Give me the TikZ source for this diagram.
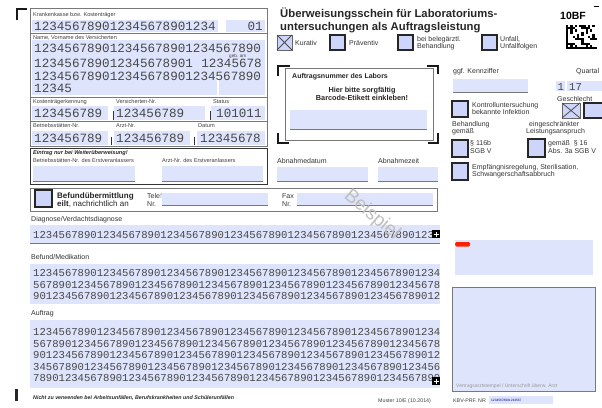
\documentclass[tikz,border=0pt]{standalone}
\usepackage{fontspec}
\setmainfont{Liberation Sans}
\newfontfamily\monofam{Liberation Mono}
\definecolor{fb}{RGB}{222,228,252}
\definecolor{cb}{RGB}{205,213,250}
\definecolor{ln}{RGB}{120,120,120}
\begin{document}
\begin{tikzpicture}[x=1pt,y=-1pt,
  tiny/.style={font=\fontsize{5.6}{6}\selectfont, text=black!75, inner sep=0pt, anchor=base west},
  sect/.style={font=\fontsize{7}{8}\selectfont, text=black!80, inner sep=0pt, anchor=base west},
  lbl/.style={font=\fontsize{7}{8}\selectfont, text=black!80, inner sep=0pt, anchor=base west},
  mbig/.style={font=\monofam\fontsize{12.6}{12.6}\selectfont, text=black!72, inner sep=0pt, anchor=base west},
  msm/.style={font=\monofam\fontsize{10.6}{11}\selectfont, text=black!72, inner sep=0pt, anchor=base west},
  uline/.style={draw=ln, line width=0.6pt},
  cbox/.style={draw=black!85, line width=1.1pt, fill=cb},
  frame/.style={draw=ln, line width=0.6pt},
  bracket/.style={line width=2.5pt, draw=black!90},
  tick/.style={draw=black!80, line width=0.6pt}]
\useasboundingbox (0,0) rectangle (602,407);
\fill[white] (0,0) rectangle (602,407);

% ---------- left block ----------
\draw[bracket] (17,20) -- (17,9) -- (27,9);
\draw[frame] (30,8) rectangle (267,146);
\draw[frame] (30,33) -- (267,33);
\draw[frame] (30,97) -- (267,97);
\draw[frame] (30,121) -- (267,121);

\node[tiny] (lkk) at (33,16) {Krankenkasse bzw. Kostenträger};
\fill[fb] (32,20) rectangle (218,32);
\fill[fb] (226,20) rectangle (265,32);
\node[mbig] (kk) at (34,30.5) {123456789012345678901234};
\node[mbig, anchor=base east] (kk2) at (263,30.5) {01};

\node[tiny] (lname) at (33,39) {Name, Vorname des Versicherten};
\fill[fb] (32,40) rectangle (265,95);
\draw[white, line width=1.5pt] (218,71) -- (218,95);
\node[mbig] (n1) at (34,52) {123456789012345678901234567890};
\node[tiny, font=\fontsize{4.6}{5}\selectfont] (lgeb) at (229,57) {geb. am};
\node[mbig] (n2) at (34,67) {123456789012345678901};
\node[mbig, anchor=base east] (n2b) at (262,67) {12345678};
\node[mbig] (n3) at (34,80) {123456789012345678901234567890};
\node[mbig] (n4) at (34,92) {12345};

\node[tiny] (lktk) at (33,103.5) {Kostenträgerkennung};
\node[tiny] (lvnr) at (116,103.5) {Versicherten-Nr.};
\node[tiny] (lst) at (213,103.5) {Status};
\fill[fb] (32,106) rectangle (108,120);
\fill[fb] (114,106) rectangle (205,120);
\fill[fb] (211,106) rectangle (265,120);
\draw[tick] (113,111) -- (113,120);
\draw[tick] (210,111) -- (210,120);
\node[mbig] (ktk) at (34,117) {123456789};
\node[mbig] (vnr) at (116,117) {123456789};
\node[mbig] (st) at (216,117) {101011};

\node[tiny] (lbsnr) at (33,127) {Betriebsstätten-Nr.};
\node[tiny] (lanr) at (116,127) {Arzt-Nr.};
\node[tiny] (ldat) at (198,127) {Datum};
\fill[fb] (32,131) rectangle (108,145);
\fill[fb] (114,131) rectangle (190,145);
\fill[fb] (197,131) rectangle (265,145);
\draw[tick] (111,137) -- (111,145);
\draw[tick] (194,137) -- (194,145);
\node[mbig] (bsnr) at (34,142) {123456789};
\node[mbig] (anr) at (116,142) {123456789};
\node[mbig] (dat) at (200,142) {12345678};

\draw[draw=black!80, line width=1pt] (30,148) rectangle (267,184);
\node[tiny, font=\bfseries\itshape\fontsize{5.6}{6}\selectfont, text=black!85] (lein) at (33,154) {Eintrag nur bei Weiterüberweisung!};
\node[tiny] (lbs2) at (33,162) {Betriebsstätten-Nr. des Erstveranlassers};
\node[tiny] (lan2) at (162,162) {Arzt-Nr. des Erstveranlassers};
\fill[fb] (33,166) rectangle (135,181); \draw[uline] (33,181) -- (135,181);
\fill[fb] (162,166) rectangle (263,181); \draw[uline] (162,181) -- (263,181);

% ---------- Befunduebermittlung ----------
\draw[frame] (30,188) rectangle (437,211);
\draw[cbox] (35,190) rectangle (52,207);
\node[font=\bfseries\fontsize{8}{8}\selectfont, text=black!85, anchor=base west, inner sep=0pt] (bu1) at (57,198) {Befundübermittlung};
\node[font=\fontsize{8}{8}\selectfont, text=black!85, anchor=base west, inner sep=0pt] (bu2) at (57,206) {\textbf{eilt}, nachrichtlich an};
\node[lbl] (tel1) at (147,198) {Tele\textcolor{black!35}{fon}};
\node[lbl] (tel2) at (147,206) {Nr.};
\fill[fb] (162,193) rectangle (268,205); \draw[uline] (162,205) -- (268,205);
\node[lbl] (fax1) at (282,198) {Fax};
\node[lbl] (fax2) at (282,206) {Nr.};
\fill[fb] (297,193) rectangle (433,205); \draw[uline] (297,205) -- (433,205);

% ---------- right column ----------
\node[font=\bfseries\fontsize{11.3}{13}\selectfont, text=black!85, anchor=base west, inner sep=0pt] (t1) at (280,17) {Überweisungsschein für Laboratoriums-};
\node[font=\bfseries\fontsize{11.3}{13}\selectfont, text=black!85, anchor=base west, inner sep=0pt] (t2) at (280,30) {untersuchungen als Auftragsleistung};
\node[font=\bfseries\fontsize{10.5}{12}\selectfont, anchor=base west, inner sep=0pt] (bf) at (560,19) {10BF};
\draw[line width=1.3pt] (594,6.5) -- (599,6.5);
\foreach \i in {0,...,13}{
  \foreach \j in {0,...,10}{
    \pgfmathtruncatemacro\v{mod(\i*\i*3+\j*7+\i*\j*5+\j*\j,7)}
    \ifnum\v<3 \fill (566+2.2*\i,25+2.2*\j) rectangle ++(2.2,2.2);\fi
  }
}
\fill (566,25) rectangle (568.2,49.2);
\fill (566,47) rectangle (596.8,49.2);
\foreach \i in {0,2,...,12}{\fill (566+2.2*\i,25) rectangle ++(2.2,2.2);}

% checkbox row
\draw[draw=black!60, line width=0.8pt, fill=cb] (277,35) rectangle (292,50);
\draw[draw=black!70, line width=0.8pt] (277,35) -- (292,50) (292,35) -- (277,50);
\node[lbl] (kur) at (295,45.5) {Kurativ};
\draw[cbox] (330,35) rectangle (345,50);
\node[lbl] (prae) at (349,45.5) {Präventiv};
\draw[cbox] (398,35) rectangle (413,50);
\node[lbl] (bel1) at (417,41) {bei belegärztl.};
\node[lbl] (bel2) at (417,48.5) {Behandlung};
\draw[cbox] (482,35) rectangle (497,50);
\node[lbl] (unf1) at (500,41) {Unfall,};
\node[lbl] (unf2) at (500,48.5) {Unfallfolgen};

% Auftragsnummer
\draw[frame] (285,68) rectangle (433,140);
\draw[bracket] (278,76) -- (278,66) -- (290,66);
\draw[bracket] (427,66) -- (438,66) -- (438,74);
\draw[bracket] (278,133) -- (278,143) -- (289,143);
\draw[bracket] (428,143) -- (438,143) -- (438,133);
\node[font=\bfseries\fontsize{7}{8}\selectfont, text=black!85, anchor=base west, inner sep=0pt] (an) at (292,78) {Auftragsnummer des Labors};
\node[font=\bfseries\fontsize{7.3}{8.5}\selectfont, text=black!85, align=center, inner sep=0pt] (hier) at (362,94) {Hier bitte sorgfältig\\Barcode-Etikett einkleben!};
\fill[fb] (290,110) rectangle (427,129); \draw[uline] (290,129) -- (427,129);

\node[lbl] (kz) at (453,73) {ggf. Kennziffer};
\fill[fb] (453,79) rectangle (528,92); \draw[uline] (453,92) -- (528,92);
\node[lbl] (q) at (576,73) {Quartal};
\fill[fb] (556,81) rectangle (565,91);
\fill[fb] (567,81) rectangle (604,91);
\node[msm] (q1) at (557.5,90) {1};
\node[msm] (q2) at (569,90) {17};
\node[lbl] (ge) at (557,101) {Geschlecht};
\draw[draw=black!60, line width=0.8pt, fill=cb] (562,103) rectangle (580,118);
\draw[draw=black!70, line width=0.8pt] (562,103) -- (580,118) (580,103) -- (562,118);
\draw[cbox] (584,103) rectangle (604,118);

\draw[cbox] (452,101) rectangle (468,117);
\node[lbl] (ko1) at (472,107) {Kontrolluntersuchung};
\node[lbl] (ko2) at (472,114.5) {bekannte Infektion};
\node[lbl] (beh1) at (452,126) {Behandlung};
\node[lbl] (beh2) at (452,133.5) {gemäß};
\node[lbl] (ein1) at (529,126) {eingeschränkter};
\node[lbl] (ein2) at (526,133.5) {Leistungsanspruch};
\draw[cbox] (452,140) rectangle (468,157);
\node[lbl] (p1) at (470,145.5) {§ 116b};
\node[lbl] (p2) at (470,153) {SGB V};
\draw[cbox] (528,139) rectangle (545,157);
\node[lbl] (p3) at (548,145.5) {gemäß \ § 16};
\node[lbl] (p4) at (548,153) {Abs. 3a SGB V};
\draw[cbox] (452,163) rectangle (468,180);
\node[lbl] (em1) at (472,169) {Empfängnisregelung, Sterilisation,};
\node[lbl] (em2) at (472,176.5) {Schwangerschaftsabbruch};

\node[lbl] (ad) at (277,163) {Abnahmedatum};
\fill[fb] (277,167) rectangle (368,181); \draw[uline] (277,181) -- (368,181);
\node[lbl] (az) at (378,163) {Abnahmezeit};
\fill[fb] (378,167) rectangle (438,181); \draw[uline] (378,181) -- (438,181);

% ---------- bottom sections ----------
\node[sect] (ldia) at (31,221) {Diagnose/Verdachtsdiagnose};
\fill[fb] (30,225) rectangle (440,243); \draw[uline] (30,243) -- (440,243);
\node[msm] (dia) at (33,238) {1234567890123456789012345678901234567890123456789012345678901234};
\fill (432,230) rectangle (440,238);
\draw[white, line width=0.8pt] (433.5,234) -- (438.5,234) (436,231.5) -- (436,236.5);

\node[sect] (lbef) at (31,259) {Befund/Medikation};
\fill[fb] (30,264) rectangle (440,304);
\node[msm] (b1) at (33,276.5) {1234567890123456789012345678901234567890123456789012345678901234};
\node[msm] (b2) at (33,288.1) {5678901234567890123456789012345678901234567890123456789012345678};
\node[msm] (b3) at (33,299.7) {9012345678901234567890123456789012345678901234567890123456789012};

\node[sect] (lauf) at (31,315) {Auftrag};
\fill[fb] (30,320) rectangle (440,388);
\node[msm] (a1) at (33,335.5) {1234567890123456789012345678901234567890123456789012345678901234};
\node[msm] (a2) at (33,347.1) {5678901234567890123456789012345678901234567890123456789012345678};
\node[msm] (a3) at (33,358.7) {9012345678901234567890123456789012345678901234567890123456789012};
\node[msm] (a4) at (33,370.3) {3456789012345678901234567890123456789012345678901234567890123456};
\node[msm] (a5) at (33,381.9) {7890123456789012345678901234567890123456789012345678901234567890};
\fill (432,377) rectangle (440,385);
\draw[white, line width=0.8pt] (433.5,381) -- (438.5,381) (436,378.5) -- (436,383.5);

% right bottom boxes
\fill[fb] (455,240) rectangle (593,275);
\fill[red!75!orange, rounded corners=1.5pt] (455,242) rectangle (470,246.5);
\draw[frame, fill=fb] (452,287) rectangle (595,391);
\node[tiny, font=\fontsize{5}{5}\selectfont, text=black!40] (vst) at (456,387) {Vertragsarztstempel / Unterschrift überw. Arzt};

% footer
\fill[black!85] (15,389) rectangle (18,401);
\node[tiny, font=\bfseries\itshape\fontsize{5.3}{6}\selectfont, text=black!85] (nicht) at (33,399) {Nicht zu verwenden bei Arbeitsunfällen, Berufskrankheiten und Schülerunfällen};
\node[tiny, font=\fontsize{5.3}{6}\selectfont] (mus) at (378,402) {Muster 10/E (10.2014)};
\node[tiny, font=\fontsize{5.3}{6}\selectfont] (kbv) at (453,402) {KBV-PRF. NR};
\fill[fb] (489,396) rectangle (553,404);
\node[tiny, font=\fontsize{3.2}{4}\selectfont, text=blue!60!black] (kbvn) at (491,401.5) {12345678901234567};

% watermark
\node[rotate=-40, text=black!25, font=\fontsize{19}{19}\selectfont] (wm) at (372,215) {Beispiel};
\end{tikzpicture}
\end{document}
